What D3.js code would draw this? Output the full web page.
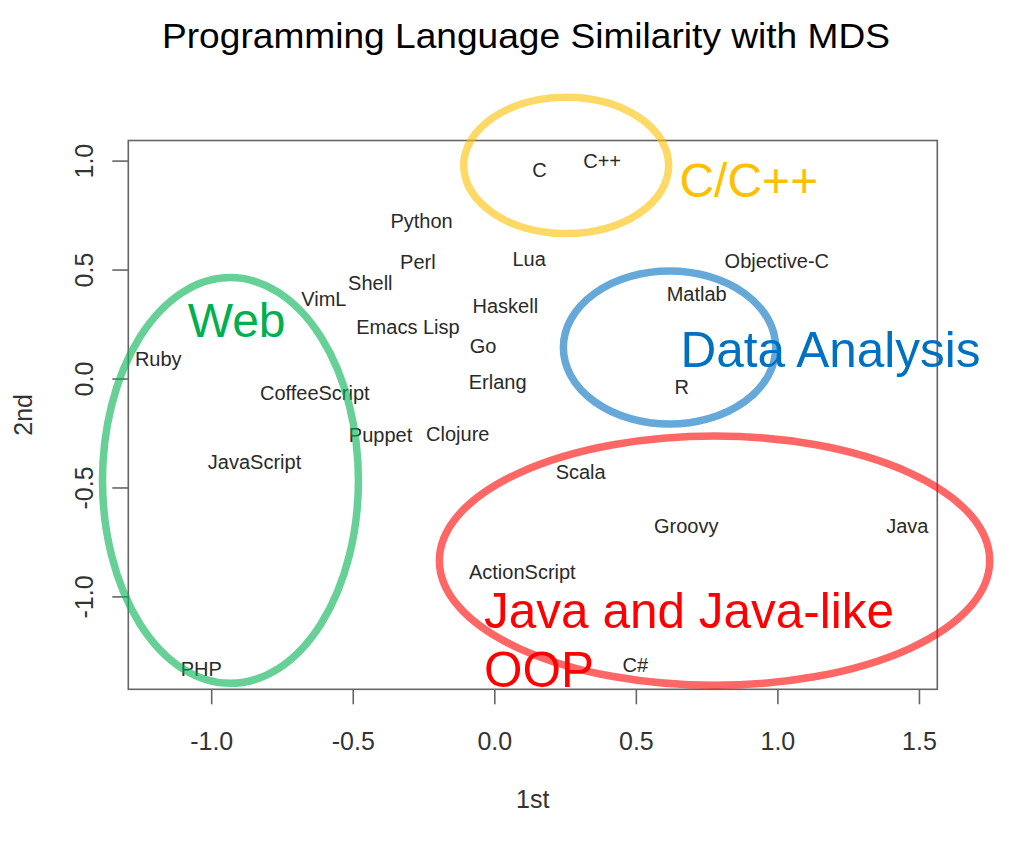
<!DOCTYPE html>
<html>
<head>
<meta charset="utf-8">
<script src="https://cdn.jsdelivr.net/npm/d3@7"></script>
<style>
  html, body { margin: 0; padding: 0; background: #fff; }
  svg { display: block; font-family: "Liberation Sans", Arial, Helvetica, sans-serif; }
</style>
</head>
<body>
<svg id="chart" width="1028" height="849"></svg>
<script>
// ---- Data (MDS coordinates) ----
const languages = ["C", "C++", "Python", "Perl", "Lua", "Objective-C", "Shell", "VimL", "Matlab",
  "Haskell", "Emacs Lisp", "Go", "Ruby", "Erlang", "R", "CoffeeScript", "Puppet", "Clojure",
  "JavaScript", "Scala", "Groovy", "Java", "ActionScript", "C#", "PHP"];
const dim1 = [0.160, 0.381, -0.257, -0.270, 0.123, 0.998, -0.438, -0.602, 0.715,
  0.039, -0.305, -0.040, -1.187, 0.012, 0.662, -0.634, -0.402, -0.129,
  -0.847, 0.305, 0.678, 1.459, 0.099, 0.498, -1.035];
const dim2 = [0.958, 0.999, 0.725, 0.537, 0.551, 0.541, 0.441, 0.368, 0.390,
  0.335, 0.239, 0.148, 0.091, -0.017, -0.040, -0.066, -0.257, -0.255,
  -0.383, -0.427, -0.676, -0.678, -0.886, -1.316, -1.333];

const xTicks = [-1.0, -0.5, 0.0, 0.5, 1.0, 1.5];
const yTicks = [-1.0, -0.5, 0.0, 0.5, 1.0];
const xTickLabels = ["-1.0", "-0.5", "0.0", "0.5", "1.0", "1.5"];
const yTickLabels = ["-1.0", "-0.5", "0.0", "0.5", "1.0"];

// Group annotations (ellipses in data units)
const groupNames = ["Web", "C/C++", "Data Analysis", "Java and Java-like|OOP"];
const groupColors = ["#00b050", "#ffc000", "#0070c0", "#ff0000"];
const groupCx = [-0.932, 0.254, 0.619, 0.778];
const groupCy = [-0.468, 0.978, 0.142, -0.836];
const groupRx = [0.452, 0.362, 0.375, 0.972];
const groupRy = [0.931, 0.313, 0.351, 0.572];
const groupLabelX = [-1.083, 0.654, 0.658, -0.036];
const groupLabelY = [0.189, 0.834, 0.052, -1.147];
const groupFontSize = [48, 48, 49.5, 49.5];

const title = "Programming Language Similarity with MDS";
const xTitle = "1st";
const yTitle = "2nd";

// ---- Layout ----
const svg = d3.select("#chart");
const plot = { left: 128.3, top: 140.5, right: 937.3, bottom: 689.3 };

function padded(arr) {
  const [lo, hi] = d3.extent(arr);
  const p = (hi - lo) * 0.04;
  return [lo - p, hi + p];
}
const x = d3.scaleLinear().domain(padded(dim1)).range([plot.left, plot.right]);
const y = d3.scaleLinear().domain(padded(dim2)).range([plot.bottom, plot.top]);

// Title
svg.append("text")
  .attr("x", 526).attr("y", 47.5)
  .attr("text-anchor", "middle")
  .attr("font-size", 35)
  .attr("textLength", 728)
  .attr("lengthAdjust", "spacingAndGlyphs")
  .attr("fill", "#000")
  .text(title);

// Plot box
svg.append("rect")
  .attr("x", plot.left).attr("y", plot.top)
  .attr("width", plot.right - plot.left).attr("height", plot.bottom - plot.top)
  .attr("fill", "none").attr("stroke", "#666").attr("stroke-width", 1.6);

// X axis
const xAxis = d3.axisBottom(x).tickValues(xTicks).tickSize(15).tickSizeOuter(0)
  .tickFormat((d, i) => xTickLabels[i]).tickPadding(28);
const gx = svg.append("g").attr("transform", `translate(0,${plot.bottom})`).call(xAxis);
gx.select(".domain").remove();
gx.selectAll(".tick line").attr("stroke", "#666").attr("stroke-width", 1.6);
gx.selectAll(".tick text").attr("font-size", 25).attr("fill", "#333")
  .attr("font-family", "\"Liberation Sans\", Arial, sans-serif");

// Y axis
const yAxis = d3.axisLeft(y).tickValues(yTicks).tickSize(16).tickSizeOuter(0)
  .tickFormat((d, i) => yTickLabels[i]).tickPadding(0);
const gy = svg.append("g").attr("transform", `translate(${plot.left},0)`).call(yAxis);
gy.select(".domain").remove();
gy.selectAll(".tick line").attr("stroke", "#666").attr("stroke-width", 1.6);
gy.selectAll(".tick text")
  .attr("font-size", 25).attr("fill", "#333")
  .attr("font-family", "\"Liberation Sans\", Arial, sans-serif")
  .attr("x", null).attr("dy", null)
  .attr("text-anchor", "middle")
  .attr("transform", "translate(-35,0) rotate(-90)");

// Axis titles
svg.append("text")
  .attr("x", (plot.left + plot.right) / 2).attr("y", 808)
  .attr("text-anchor", "middle").attr("font-size", 25).attr("fill", "#333")
  .text(xTitle);
svg.append("text")
  .attr("transform", `translate(32,${(plot.top + plot.bottom) / 2}) rotate(-90)`)
  .attr("text-anchor", "middle").attr("font-size", 25).attr("fill", "#333")
  .text(yTitle);

// Language labels
const points = languages.map((name, i) => ({ name, a: dim1[i], b: dim2[i] }));
svg.append("g").selectAll("text").data(points).join("text")
  .attr("x", d => x(d.a)).attr("y", d => y(d.b))
  .attr("dy", "0.36em")
  .attr("text-anchor", "middle")
  .attr("font-size", 20)
  .attr("fill", "#2a2a2a")
  .text(d => d.name);

// Group ellipses
const groups = groupNames.map((name, i) => ({
  name, color: groupColors[i], cx: groupCx[i], cy: groupCy[i], rx: groupRx[i], ry: groupRy[i],
  lx: groupLabelX[i], ly: groupLabelY[i], fs: groupFontSize[i]
}));
svg.append("g").selectAll("ellipse").data(groups).join("ellipse")
  .attr("cx", d => x(d.cx)).attr("cy", d => y(d.cy))
  .attr("rx", d => x(d.cx + d.rx) - x(d.cx))
  .attr("ry", d => y(d.cy) - y(d.cy + d.ry))
  .attr("fill", "none")
  .attr("stroke", d => d.color)
  .attr("stroke-opacity", 0.6)
  .attr("stroke-width", 7.5);

// Group labels
const gl = svg.append("g").selectAll("text").data(groups).join("text")
  .attr("x", d => x(d.lx)).attr("y", d => y(d.ly))
  .attr("font-size", d => d.fs)
  .attr("fill", d => d.color);
gl.each(function(d) {
  const lines = d.name.split("|");
  const t = d3.select(this);
  lines.forEach((ln, k) => {
    t.append("tspan").attr("x", x(d.lx)).attr("dy", k === 0 ? 0 : 59).text(ln);
  });
});
</script>
</body>
</html>
